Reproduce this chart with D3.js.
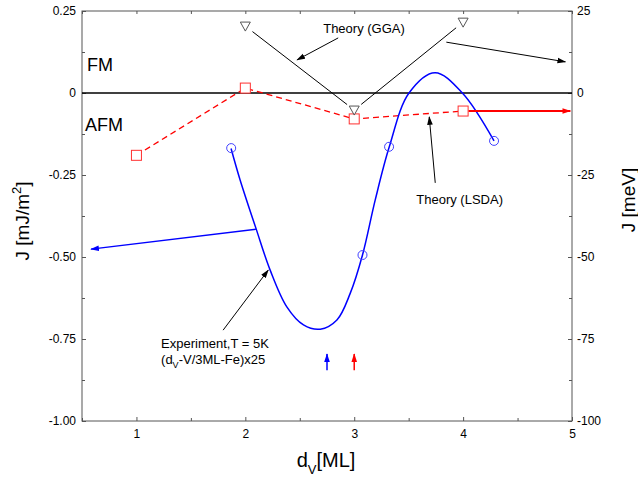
<!DOCTYPE html>
<html>
<head>
<meta charset="utf-8">
<script src="https://cdn.jsdelivr.net/npm/d3@7"></script>
<style>
  body { margin: 0; background: #fff; }
  svg { font-family: "Liberation Sans", Arial, sans-serif; }
</style>
</head>
<body>
<div id="container"></div>
<script>
/* DATA */
const xTicks = [1, 2, 3, 4, 5];
const xMinor = [0.5, 1.5, 2.5, 3.5, 4.5];
const yTicks = [0.25, 0, -0.25, -0.5, -0.75, -1];
const yMinor = [0.125, -0.125, -0.375, -0.625, -0.875];
const yRightTicks = [25, 0, -25, -50, -75, -100];

// Theory (LSDA), red squares
const lsdaX = [1, 2, 3, 4];
const lsdaY = [-0.19, 0.015, -0.079, -0.055];

// Theory (GGA), grey triangles
const ggaX = [2, 3, 4];
const ggaY = [0.204, -0.052, 0.216];

// Experiment, blue circles
const expX = [1.87, 3.076, 3.32, 4.284];
const expY = [-0.168, -0.494, -0.164, -0.146];

const fitX = [1.869, 1.952, 2.097, 2.228, 2.381, 2.534, 2.688, 2.841, 2.963, 3.076, 3.193, 3.322, 3.503, 3.742, 3.993, 4.284];
const fitY = [-0.169, -0.265, -0.412, -0.540, -0.652, -0.707, -0.720, -0.692, -0.611, -0.494, -0.326, -0.164, 0.0, 0.062, 0.0, -0.146];

/* LAYOUT */
const width = 638, height = 482;
const margin = {top: 11, bottom: 61, left: 82, right: 66};

const svg = d3.select("#container").append("svg")
  .attr("width", width)
  .attr("height", height);

const xScale = d3.scaleLinear().domain([0.5, 5]).range([margin.left, width - margin.right]);
const yScale = d3.scaleLinear().domain([-1, 0.25]).range([height - margin.bottom, margin.top]);
const yRight = d3.scaleLinear().domain([-100, 25]).range([height - margin.bottom, margin.top]);

const axisColor = "#555";

// arrow markers
const defs = svg.append("defs");
[["black", "#000"], ["blue", "#0000ff"], ["red", "#ff0000"]].forEach(([name, col]) => {
  defs.append("marker")
    .attr("id", "arr-" + name)
    .attr("markerUnits", "userSpaceOnUse")
    .attr("viewBox", "0 -4 10 8")
    .attr("refX", 9).attr("refY", 0)
    .attr("markerWidth", 9).attr("markerHeight", 7)
    .attr("orient", "auto")
    .append("path")
    .attr("d", "M0,-3.2L10,0L0,3.2Z")
    .attr("fill", col);
});

// Axes
function styleAxis(g) {
  g.select(".domain").remove();
  g.selectAll(".tick line").attr("stroke", axisColor);
  g.selectAll(".tick text").attr("fill", "#000").style("font-size", "12px");
}

const fmtLeft = d => d === 0 ? "0" : d.toFixed(2);
const fmtRight = d => String(d);

svg.append("g")
  .attr("transform", `translate(0,${height - margin.bottom})`)
  .call(d3.axisBottom(xScale).tickValues(xTicks).tickFormat(d => String(d)).tickSizeInner(-4).tickSizeOuter(0).tickPadding(8))
  .call(styleAxis);
svg.append("g")
  .attr("transform", `translate(0,${height - margin.bottom})`)
  .call(d3.axisBottom(xScale).tickValues(xMinor).tickFormat("").tickSizeInner(-3).tickSizeOuter(0))
  .call(styleAxis);
svg.append("g")
  .attr("transform", `translate(0,${margin.top})`)
  .call(d3.axisTop(xScale).tickValues(xTicks.concat(xMinor)).tickFormat("").tickSizeInner(-3).tickSizeOuter(0))
  .call(styleAxis);

svg.append("g")
  .attr("transform", `translate(${margin.left},0)`)
  .call(d3.axisLeft(yScale).tickValues(yTicks).tickFormat(fmtLeft).tickSizeInner(-4).tickSizeOuter(0).tickPadding(6))
  .call(styleAxis);
svg.append("g")
  .attr("transform", `translate(${margin.left},0)`)
  .call(d3.axisLeft(yScale).tickValues(yMinor).tickFormat("").tickSizeInner(-3).tickSizeOuter(0))
  .call(styleAxis);

svg.append("g")
  .attr("transform", `translate(${width - margin.right},0)`)
  .call(d3.axisRight(yRight).tickValues(yRightTicks).tickFormat(fmtRight).tickSizeInner(-4).tickSizeOuter(0).tickPadding(5))
  .call(styleAxis);
svg.append("g")
  .attr("transform", `translate(${width - margin.right},0)`)
  .call(d3.axisRight(yScale).tickValues(yMinor).tickFormat("").tickSizeInner(-3).tickSizeOuter(0))
  .call(styleAxis);

// frame
svg.append("rect")
  .attr("x", margin.left).attr("y", margin.top)
  .attr("width", width - margin.left - margin.right)
  .attr("height", height - margin.top - margin.bottom)
  .attr("fill", "none").attr("stroke", axisColor);

// zero line
svg.append("line")
  .attr("x1", xScale(0.5)).attr("x2", xScale(5))
  .attr("y1", yScale(0)).attr("y2", yScale(0))
  .attr("stroke", "#000").attr("stroke-width", 1.5);

// axis titles
svg.append("text")
  .attr("transform", `translate(29,${(margin.top + height - margin.bottom) / 2 + 5}) rotate(-90)`)
  .attr("text-anchor", "middle")
  .style("font-size", "19px")
  .html('J [mJ/m<tspan dy="-8" font-size="13px">2</tspan><tspan dy="8">]</tspan>');

svg.append("text")
  .attr("transform", `translate(635,200) rotate(-90)`)
  .attr("text-anchor", "middle")
  .style("font-size", "19px")
  .text("J [meV]");

svg.append("text")
  .attr("x", 326).attr("y", 467)
  .attr("text-anchor", "middle")
  .style("font-size", "20px")
  .html('d<tspan dy="7" font-size="13px">V</tspan><tspan dy="-7">[ML]</tspan>');

// FM / AFM
svg.append("text").attr("x", xScale(0.546)).attr("y", yScale(0.067))
  .style("font-size", "18px").text("FM");
svg.append("text").attr("x", xScale(0.528)).attr("y", yScale(-0.116))
  .style("font-size", "18px").text("AFM");

// LSDA dashed line + squares
const line = d3.line().x(d => xScale(d[0])).y(d => yScale(d[1]));
const lsda = lsdaX.map((x, i) => [x, lsdaY[i]]);
svg.append("path")
  .attr("d", line(lsda))
  .attr("fill", "none").attr("stroke", "#ff0000").attr("stroke-width", 1.3)
  .attr("stroke-dasharray", "6,4");
svg.selectAll(".sq").data(lsda).join("rect")
  .attr("x", d => xScale(d[0]) - 5).attr("y", d => yScale(d[1]) - 5)
  .attr("width", 10).attr("height", 10)
  .attr("fill", "#fff").attr("stroke", "#ff3030").attr("stroke-width", 1);

// GGA triangles + connecting lines (shortened)
const gga = ggaX.map((x, i) => [xScale(x), yScale(ggaY[i])]);
d3.pairs(gga).forEach(([a, b]) => {
  const dx = b[0] - a[0], dy = b[1] - a[1], L = Math.hypot(dx, dy);
  const g = 9;
  svg.append("line")
    .attr("x1", a[0] + dx / L * g).attr("y1", a[1] + dy / L * g)
    .attr("x2", b[0] - dx / L * g).attr("y2", b[1] - dy / L * g)
    .attr("stroke", "#000").attr("stroke-width", 1);
});
svg.selectAll(".tri").data(gga).join("path")
  .attr("transform", d => `translate(${d[0]},${d[1]})`)
  .attr("d", "M-5,-4L5,-4L0,5Z")
  .attr("fill", "#fff").attr("stroke", "#555").attr("stroke-width", 1);

// experiment curve + circles
const fit = fitX.map((x, i) => [x, fitY[i]]);
svg.append("path")
  .attr("d", d3.line().x(d => xScale(d[0])).y(d => yScale(d[1])).curve(d3.curveCatmullRom)(fit))
  .attr("fill", "none").attr("stroke", "#0000ff").attr("stroke-width", 1.5);
svg.selectAll(".circ").data(expX.map((x, i) => [x, expY[i]])).join("circle")
  .attr("cx", d => xScale(d[0])).attr("cy", d => yScale(d[1]))
  .attr("r", 4.5)
  .attr("fill", "none").attr("stroke", "#4040ff").attr("stroke-width", 1);

// annotation arrows [x1, y1, x2, y2, colour, width]
const arrows = [
  [2.853, 0.168, 2.476, 0.101, "black", 1],
  [3.846, 0.155, 4.939, 0.095, "black", 1],
  [3.744, -0.274, 3.689, -0.073, "black", 1],
  [1.796, -0.723, 2.210, -0.540, "black", 1],
  [2.099, -0.415, 0.583, -0.476, "blue", 1.5],
  [4.05, -0.055, 4.985, -0.055, "red", 2],
  [2.75, -0.845, 2.75, -0.796, "blue", 1.5],
  [3.0, -0.845, 3.0, -0.796, "red", 1.5]
];
const colours = {black: "#000", blue: "#0000ff", red: "#ff0000"};
svg.selectAll(".arrow").data(arrows).join("line")
  .attr("x1", d => xScale(d[0])).attr("y1", d => yScale(d[1]))
  .attr("x2", d => xScale(d[2])).attr("y2", d => yScale(d[3]))
  .attr("stroke", d => colours[d[4]]).attr("stroke-width", d => d[5])
  .attr("marker-end", d => `url(#arr-${d[4]})`);

// annotation texts
svg.append("text").attr("x", xScale(2.715)).attr("y", yScale(0.183))
  .style("font-size", "13px").text("Theory (GGA)");
svg.append("text").attr("x", xScale(3.57)).attr("y", yScale(-0.338))
  .style("font-size", "13px").text("Theory (LSDA)");
svg.append("text").attr("x", xScale(1.226)).attr("y", yScale(-0.777))
  .style("font-size", "13px").text("Experiment,T = 5K");
svg.append("text").attr("x", xScale(1.226)).attr("y", yScale(-0.826))
  .style("font-size", "13px")
  .html('(d<tspan dy="4" font-size="9px">V</tspan><tspan dy="-4">-V/3ML-Fe)x25</tspan>');
</script>
</body>
</html>
